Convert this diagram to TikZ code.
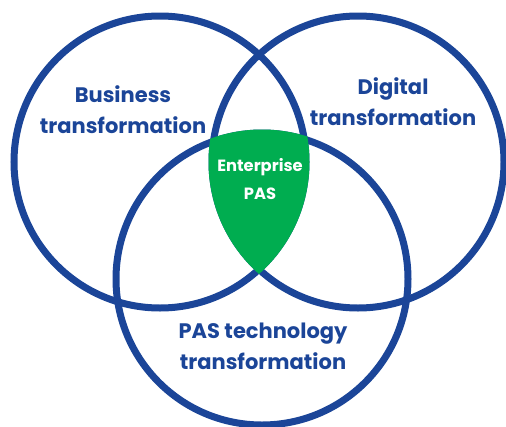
\documentclass[tikz,border=0pt]{standalone}
\usepackage{fontspec}
\setmainfont{Poppins}
\definecolor{vblue}{RGB}{27,69,152}
\definecolor{vgreen}{RGB}{0,173,80}
\begin{document}
\begin{tikzpicture}[x=1pt,y=-1pt,
  ring/.style={draw=vblue,line width=7pt},
  lbl/.style={text=vblue,font=\bfseries\fontsize{21}{31}\selectfont,align=center,inner sep=0pt},
  glbl/.style={text=white,font=\bfseries\fontsize{16.3}{28}\selectfont,align=center,inner sep=0pt}]
\useasboundingbox (0,0) rectangle (506,426);
\coordinate (cl) at (160,162);
\coordinate (cr) at (358,162);
\coordinate (cb) at (262,279);
\draw[ring] (cl) circle[radius=146];
\draw[ring] (cr) circle[radius=146];
\draw[ring] (cb) circle[radius=146];
\begin{scope}
  \clip (cl) circle[radius=149.5];
  \clip (cr) circle[radius=149.5];
  \fill[vgreen] (cb) circle[radius=149.5];
\end{scope}
\node[lbl] (bus) at (123,110) {Business\\transformation};
\node[lbl] (dig) at (393,102) {Digital\\transformation};
\node[lbl] (pas) at (263,346) {PAS technology\\transformation};
\node[glbl] (ent) at (260,179) {Enterprise\\PAS};
\end{tikzpicture}
\end{document}
